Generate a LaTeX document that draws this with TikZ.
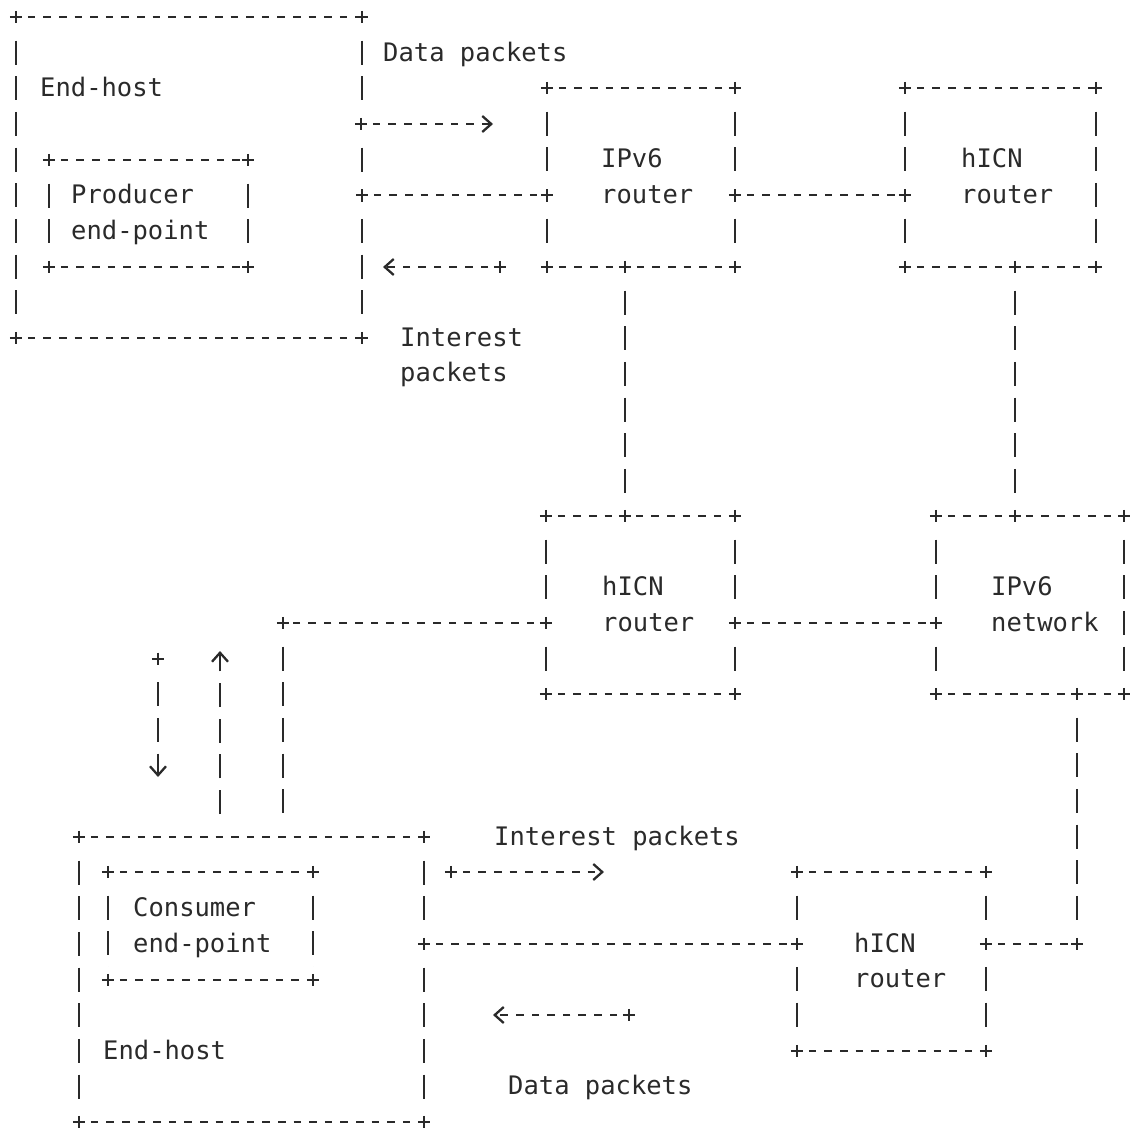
\documentclass[tikz,border=0pt]{standalone}
\usepackage{fontspec}
\setmonofont{DejaVu Sans Mono}
\usepackage{xcolor}
\usepackage{tikz}
\usetikzlibrary{arrows.meta,fit,calc}

\definecolor{inkgray}{HTML}{2A2A2A}

\tikzset{
    hline/.style={draw=inkgray, line width=2.3pt, dash pattern=on 7.5pt off 8.1pt, dash phase=3.75pt},
    vline/.style={draw=inkgray, line width=2.3pt, dash pattern=on 24pt off 11.65pt, dash phase=12pt},
    boxarea/.style={inner sep=0pt, outer sep=0pt, draw=none},
    txt/.style={anchor=base west, inner sep=0pt, text=inkgray, font=\ttfamily\fontsize{25.5}{30}\selectfont},
    tip/.style={-{Straight Barb[length=9pt, width=16pt, line width=2.3pt]}},
    plus/.pic={
        \fill[white] (-2.2,-12.8) rectangle (2.2,12.8);
        \draw[inkgray, solid, line width=2.3pt] (-6.2,0) -- (6.2,0) (0,-6.2) -- (0,6.2);
    }
}

% box drawn with ascii-like sides: name, x1, y1, x2, y2
\newcommand{\asciibox}[5]{%
    \node[boxarea, fit={(#2,#3) (#4,#5)}] (#1) {};
    \draw[hline] (#1.north west) -- (#1.north east) (#1.south west) -- (#1.south east);
    \draw[vline] (#1.north west) -- (#1.south west) (#1.north east) -- (#1.south east);
}

\begin{document}
\begin{tikzpicture}[x=1pt, y=-1pt]
    \useasboundingbox (0,0) rectangle (1130,1129);

    % Rows and columns
    \coordinate (r3) at (0,124);
    \coordinate (r5) at (0,195.3);
    \coordinate (r17) at (0,623);
    \coordinate (r26) at (0,944);
    \coordinate (cA) at (625,0);
    \coordinate (cB) at (1015,0);
    \coordinate (cC) at (283,0);
    \coordinate (cD) at (1077,0);

    % Boxes
    \asciibox{prodhost}{16}{17}{362}{338}
    \asciibox{prodep}{49}{160}{248}{267}
    \asciibox{iprouter}{547}{88}{735}{267}
    \asciibox{hicnone}{905}{88}{1096}{267}
    \asciibox{hicntwo}{546}{516}{735}{694}
    \asciibox{ipnet}{936}{516}{1124}{694}
    \asciibox{hicnthree}{797}{872}{986}{1051}
    \asciibox{conshost}{79}{837}{424}{1122}
    \asciibox{consep}{108}{872}{313}{980}

    % Links
    \draw[hline] (prodhost.east |- r5) coordinate (pa) -- (iprouter.west |- r5) coordinate (pb);
    \draw[hline] (iprouter.east |- r5) coordinate (pc) -- (hicnone.west |- r5) coordinate (pd);
    \draw[vline] (iprouter.south -| cA) coordinate (pe) -- (hicntwo.north -| cA) coordinate (pf);
    \draw[vline] (hicnone.south -| cB) coordinate (pg) -- (ipnet.north -| cB) coordinate (ph);
    \draw[hline] (hicntwo.east |- r17) coordinate (pi) -- (ipnet.west |- r17) coordinate (pj);
    \draw[hline] (hicntwo.west |- r17) coordinate (pk) -- (cC |- r17) coordinate (elbow);
    \draw[vline, shorten >=13pt] (elbow) -- (conshost.north -| cC);
    \draw[vline] (ipnet.south -| cD) coordinate (pl) -- (cD |- r26) coordinate (knee);
    \draw[hline] (hicnthree.east |- r26) coordinate (pm) -- (knee);
    \draw[hline] (conshost.east |- r26) coordinate (pn) -- (hicnthree.west |- r26) coordinate (po);

    % Packet arrows
    \coordinate (datastart) at (361,124);
    \coordinate (dataend) at (493,124);
    \coordinate (intA) at (500,267);
    \coordinate (intAend) at (383,267);
    \coordinate (downA) at (158,658.7);
    \coordinate (downAend) at (158,777);
    \coordinate (upA) at (220,814);
    \coordinate (upAend) at (220,651);
    \coordinate (intB) at (451,872);
    \coordinate (intBend) at (604,872);
    \coordinate (datB) at (629,1015);
    \coordinate (datBend) at (493,1015);
    \draw[hline, tip] (datastart) -- (dataend);
    \draw[hline, tip] (intA) -- (intAend);
    \draw[vline, tip] (downA) -- (downAend);
    \draw[vline, tip, dash phase=0pt] (upA) -- (upAend);
    \draw[hline, tip] (intB) -- (intBend);
    \draw[hline, tip] (datB) -- (datBend);

    % Corners and junctions
    \foreach \b in {prodhost, prodep, iprouter, hicnone, hicntwo, ipnet, hicnthree, conshost, consep}
        \foreach \c in {north west, north east, south west, south east} \pic at (\b.\c) {plus};
    \foreach \p in {pa, pb, pc, pd, pe, pf, pg, ph, pi, pj, pk, elbow, pl, knee, pm, pn, po,
        datastart, intA, downA, intB, datB} \pic at (\p) {plus};

    % Labels
    \foreach \x/\r/\t [count=\i] in {385/1/Data packets, 42/2/End-host, 73/5/Producer, 73/6/end-point,
        603/4/IPv6, 603/5/router, 963/4/hICN, 963/5/router, 402/9/Interest, 402/10/packets,
        604/16/hICN, 604/17/router, 993/16/IPv6, 993/17/network, 496/23/Interest packets,
        135/25/Consumer, 135/26/end-point, 856/26/hICN, 856/27/router, 105/29/End-host, 510/30/Data packets}
        \node[txt] (lbl\i) at (\x-2, {25.4+35.65*\r}) {\t};

\end{tikzpicture}
\end{document}
